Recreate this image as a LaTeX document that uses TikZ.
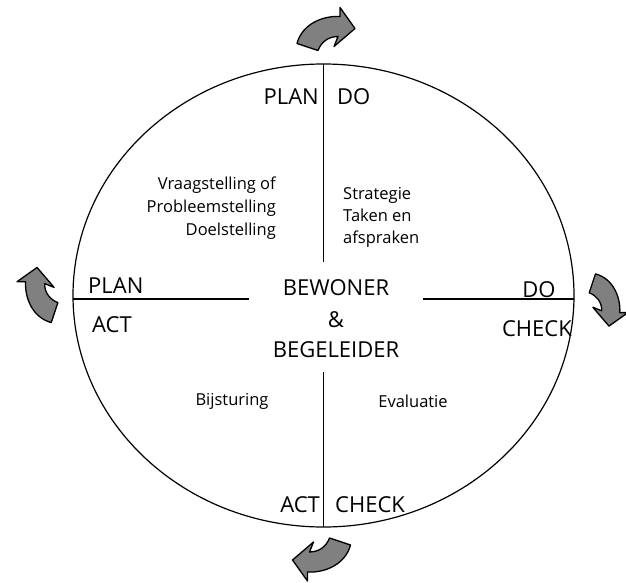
\documentclass[tikz,border=0pt]{standalone}
\usepackage{fontspec}
\setmainfont{Open Sans}
\usetikzlibrary{shapes.geometric}
\begin{document}
\begin{tikzpicture}[x=1pt,y=-1pt,
  big/.style={font=\fontsize{22}{26}\selectfont, inner sep=0pt},
  small/.style={font=\fontsize{16.5}{23}\selectfont, inner sep=0pt},
  smallb/.style={font=\fontsize{16.5}{22}\selectfont, inner sep=0pt},
  divline/.style={line width=1.6pt},
  arrowstyle/.style={fill=black!50, draw=black, line width=1.3pt, line join=round},
  curvarrow/.pic={\draw[arrowstyle] (-29,15) -- (-8,22) .. controls (-5,14) and (2,8) .. (12,8) -- (8,18) -- (29,0) -- (14,-21) -- (14,-12) .. controls (-4,-13) and (-24,-4) .. cycle;}
]
\useasboundingbox (0,0) rectangle (626,583);
\node[ellipse, draw, line width=1.2pt, minimum width=501pt, minimum height=463pt, inner sep=0pt, outer sep=0pt] (E) at (323.5,295.5) {};
\coordinate (tv) at (323.5,262);
\coordinate (bv) at (323.5,372);
\coordinate (lh) at (249,299);
\coordinate (rh) at (423,299);
\draw[divline] (E.north) -- (tv);
\draw[divline] (bv) -- (E.south);
\draw[divline] (E.west |- lh) -- (lh);
\draw[divline] (rh) -- (E.east |- rh);
% labels
\node[big, anchor=east] (tplan) at (319,97) {PLAN};
\node[big, anchor=west] (tdo) at (337,97) {DO};
\node[big, anchor=west] (lplan) at (88,286) {PLAN};
\node[big, anchor=west] (lact) at (92,325) {ACT};
\node[big] (rdo) at (539,290) {DO};
\node[big, anchor=east] (rcheck) at (572,329) {CHECK};
\node[big] (bew) at (336,288) {BEWONER};
\node[big] (amp) at (336,320) {\&};
\node[big] (beg) at (336,350) {BEGELEIDER};
\node[big, anchor=east] (bact) at (320,505) {ACT};
\node[big, anchor=west] (bcheck) at (335,505) {CHECK};
\node[small, anchor=east, align=right] (vraag) at (276,208) {Vraagstelling of\\Probleemstelling\\Doelstelling};
\node[smallb, anchor=west, align=left] (strat) at (343,217) {Strategie\\Taken en\\afspraken};
\node[small] (bijs) at (232,401) {Bijsturing};
\node[small] (eval) at (413,401) {Evaluatie};
% arrows
\pic at (326,28.5) {curvarrow};
\pic[rotate=90, scale=0.95] at (37,295) {curvarrow};
\pic[rotate=-90, scale=0.9] at (609,300) {curvarrow};
\pic[rotate=180] at (321.5,560) {curvarrow};
\end{tikzpicture}
\end{document}
